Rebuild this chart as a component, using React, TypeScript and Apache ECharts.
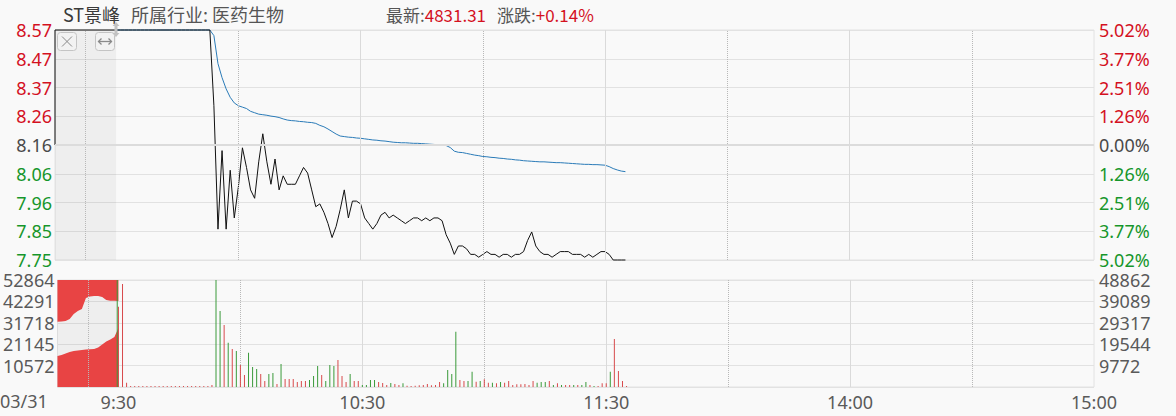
import React, { useEffect, useRef } from "react";
import * as echarts from "echarts";

// ---------- data ----------
const STOCK_NAME = "ST景峰";
const INDUSTRY = "所属行业: 医药生物";
const LATEST_LABEL = "最新:";
const LATEST_VALUE = "4831.31";
const CHANGE_LABEL = "涨跌:";
const CHANGE_VALUE = "+0.14%";
const DATE_LABEL = "03/31";

const PREV_CLOSE = 8.16;
const PRICE_HIGH = 8.57;
const PRICE_LABELS = ["7.75", "7.85", "7.96", "8.06", "8.16", "8.26", "8.37", "8.47", "8.57"];
const PCT_LABELS = ["5.02%", "3.77%", "2.51%", "1.26%", "0.00%", "1.26%", "2.51%", "3.77%", "5.02%"];
const PRE_VOL_MAX = 52864;
const VOL_MAX = 48862;
const VOL_L_LABELS = ["", "10572", "21145", "31718", "42291", "52864"];
const VOL_R_LABELS = ["", "9772", "19544", "29317", "39089", "48862"];
const TIME_TICKS = [0, 60, 120, 180, 240];
const TIME_LABELS = ["9:30", "10:30", "11:30", "14:00", "15:00"];
const GUIDES_SOLID = [60, 120, 180];
const GUIDES_DOTTED = [-7.5, 30, 90, 150, 210];

// call auction (minutes relative to 9:30)
const PRE_T = [-15, -14, -13, -12, -11, -10, -9, -8, -7, -6, -5, -4, -3, -2, -1, 0];
const PRE_UPPER = [32262, 32361, 32608, 33596, 36066, 37549, 38537, 43971, 44712, 44959, 44959, 44465, 42983, 42637, 42637, 42489];
const PRE_LOWER = [15316, 15810, 16551, 17292, 17786, 18033, 18280, 18527, 18626, 18774, 19515, 20998, 22480, 23468, 24703, 29150];
const PRE_PRICE_T = [-15, -15, 0];
const PRE_PRICE = [8.16, 8.57, 8.57];
const AUCTION_T = -0.3;
const AUCTION_VOL = 48862;

// per-minute from 9:30
const PRICE = [
  8.57, 8.57, 8.57, 8.57, 8.57, 8.57, 8.57, 8.57, 8.57, 8.57,
  8.57, 8.57, 8.57, 8.57, 8.57, 8.57, 8.57, 8.57, 8.57, 8.57,
  8.57, 8.57, 8.57, 8.57, 8.30, 7.86, 8.14, 7.86, 8.07, 7.90,
  8.01, 8.15, 8.08, 8.00, 7.97, 8.10, 8.20, 8.10, 8.02, 8.11,
  8.00, 8.05, 8.02, 8.02, 8.02, 8.05, 8.08, 8.06, 8.00, 7.94,
  7.95, 7.92, 7.88, 7.83, 7.87, 7.93, 8.00, 7.90, 7.96, 7.96,
  7.95, 7.90, 7.88, 7.86, 7.88, 7.91, 7.92, 7.90, 7.91, 7.90,
  7.89, 7.88, 7.89, 7.90, 7.90, 7.89, 7.90, 7.89, 7.90, 7.90,
  7.89, 7.84, 7.81, 7.77, 7.80, 7.80, 7.79, 7.77, 7.77, 7.76,
  7.77, 7.78, 7.77, 7.77, 7.76, 7.77, 7.77, 7.76, 7.77, 7.77,
  7.78, 7.82, 7.85, 7.80, 7.78, 7.77, 7.77, 7.76, 7.77, 7.78,
  7.78, 7.78, 7.77, 7.77, 7.77, 7.76, 7.77, 7.76, 7.77, 7.78,
  7.78, 7.77, 7.75, 7.75, 7.75, 7.75,
];
const AVG = [
  8.57, 8.57, 8.57, 8.57, 8.57, 8.57, 8.57, 8.57, 8.57, 8.57,
  8.57, 8.57, 8.57, 8.57, 8.57, 8.57, 8.57, 8.57, 8.57, 8.57,
  8.57, 8.57, 8.57, 8.57, 8.55, 8.45, 8.40, 8.36, 8.33, 8.31,
  8.30, 8.295, 8.29, 8.28, 8.275, 8.27, 8.268, 8.266, 8.263, 8.261,
  8.258, 8.253, 8.249, 8.247, 8.246, 8.244, 8.243, 8.241, 8.240, 8.237,
  8.230, 8.225, 8.217, 8.208, 8.199, 8.192, 8.190, 8.188, 8.187, 8.185,
  8.184, 8.182, 8.180, 8.178, 8.177, 8.175, 8.174, 8.172, 8.170, 8.169,
  8.168, 8.168, 8.167, 8.166, 8.166, 8.165, 8.164, 8.163, 8.162, 8.161,
  8.160, 8.158, 8.151, 8.138, 8.134, 8.133, 8.130, 8.127, 8.124, 8.122,
  8.119, 8.118, 8.116, 8.115, 8.113, 8.112, 8.110, 8.109, 8.107, 8.106,
  8.104, 8.103, 8.102, 8.101, 8.100, 8.100, 8.099, 8.098, 8.097, 8.097,
  8.096, 8.095, 8.094, 8.093, 8.092, 8.091, 8.091, 8.090, 8.090, 8.089,
  8.088, 8.083, 8.076, 8.071, 8.067, 8.065,
];
const VOL = [
  36670, 47040, 1960, 460, 460, 460, 460, 460, 460, 460,
  460, 460, 460, 460, 460, 460, 460, 460, 460, 460,
  460, 460, 460, 910, 48862, 34700, 28300, 20230, 17350, 16440,
  10050, 5480, 15660, 9130, 8220, 5940, 2740, 5940, 6390, 1370,
  10500, 3650, 3650, 3650, 2280, 2740, 2740, 3200, 5020, 9590,
  5480, 2740, 10050, 9590, 12330, 5020, 2280, 5940, 2740, 2740,
  910, 910, 3200, 3200, 2280, 1830, 910, 1830, 1370, 910,
  1680, 610, 460, 610, 760, 910, 1370, 760, 910, 2280,
  1680, 7760, 5940, 25270, 3200, 2740, 2740, 7000, 2440, 2740,
  3500, 1980, 1980, 1680, 2280, 1980, 2740, 910, 1220, 1220,
  1370, 910, 2740, 1980, 2280, 2280, 2740, 910, 1680, 910,
  910, 910, 910, 910, 910, 2280, 910, 460, 460, 1680,
  1680, 7000, 21920, 7310, 2740, 460,
];
const VOL_DIR = (
  "rrrrrrrrrrrrrrrrrrrrrrrr" +
  "ggrgrgrrgg" + "grrggrgrrr" + "rrrgggrggg" + "rrrgrrgggg" + "rrrgrrgrrr" +
  "rrrrrrgggg" + "rrggrgrrgr" + "grrrrrrrrg" + "ggrgrgrrgr" + "ggrgrrrgrr" + "rr"
).split("");

// ---------- style ----------
const BG = "#f9f9f9";
const GRID_C = "#e2e2e2";
const RED = "#d4111f";
const GREEN = "#16962b";
const NEUTRAL = "#4a4a4a";
const LABEL_C = "#5a5a5a";
const BAR_RED = "#d84a4c";
const BAR_GREEN = "#3a9a3a";
const AREA_RED = "#e84444";
const NUM_FONT = "'Noto Sans', sans-serif";
const CJK_FONT = "'Noto Sans CJK SC', sans-serif";

const STEP = (PRICE_HIGH - PREV_CLOSE) / 4;
const tr = (p: number) => (p - PREV_CLOSE) / STEP;

export default function App() {
  const ref = useRef<HTMLDivElement>(null);
  useEffect(() => {
    if (!ref.current) return;
    document.body.style.margin = "0";
    const chart = echarts.init(ref.current, null, { renderer: "svg" });

    const priceData: number[][] = PRE_PRICE_T.map((t, i) => [t, tr(PRE_PRICE[i])]).concat(
      PRICE.map((p, m) => [m, tr(p)])
    );
    const avgData = AVG.map((p, m) => [m, tr(p)]);
    const guideLines = (withMid: boolean) => {
      const arr: any[] = [];
      GUIDES_SOLID.forEach((x) => arr.push({ xAxis: x, lineStyle: { type: "solid", color: "#dadada", width: 1 } }));
      GUIDES_DOTTED.forEach((x) => arr.push({ xAxis: x, lineStyle: { type: "dotted", color: "#b8b8b8", width: 1 } }));
      if (withMid) arr.push({ yAxis: 0, lineStyle: { type: "solid", color: "#dcdcdc", width: 2 } });
      return arr;
    };
    const volData: any[] = [
      { value: [AUCTION_T, AUCTION_VOL], itemStyle: { color: BAR_GREEN } },
    ].concat(
      VOL.map((v, m) => ({
        value: [m, v],
        itemStyle: { color: VOL_DIR[m] === "g" ? BAR_GREEN : BAR_RED },
      }))
    );
    const lbl = { fontSize: 18, lineHeight: 18, fontFamily: NUM_FONT };

    const option: any = {
      animation: false,
      backgroundColor: BG,
      textStyle: { fontFamily: NUM_FONT },
      grid: [
        { left: 55, right: 82, top: 30, height: 230, show: true, borderColor: GRID_C, borderWidth: 1, backgroundColor: "transparent" },
        { left: 55, right: 82, top: 280, height: 107, show: true, borderColor: GRID_C, borderWidth: 1, backgroundColor: "transparent" },
      ],
      xAxis: [
        {
          type: "value", gridIndex: 0, min: -15, max: 240, interval: 15,
          axisLine: { show: false }, axisTick: { show: false }, axisLabel: { show: false }, splitLine: { show: false },
        },
        {
          type: "value", gridIndex: 1, min: -15, max: 240, interval: 15,
          axisLine: { show: false }, axisTick: { show: false }, splitLine: { show: false },
          axisLabel: {
            ...lbl, show: true, color: LABEL_C, margin: 6,
            formatter: (v: number) => {
              const i = TIME_TICKS.indexOf(Math.round(Number(v)));
              return i >= 0 ? TIME_LABELS[i] : "";
            },
          },
        },
      ],
      yAxis: [
        {
          type: "value", gridIndex: 0, position: "left", min: -4, max: 4, interval: 1,
          axisLine: { show: false }, axisTick: { show: false },
          splitLine: { show: true, lineStyle: { color: GRID_C } },
          axisLabel: {
            ...lbl, margin: 3,
            formatter: (v: number) => PRICE_LABELS[Math.round(Number(v)) + 4],
            color: (v: any) => (Number(v) > 0.01 ? RED : Number(v) < -0.01 ? GREEN : NEUTRAL),
          },
        },
        {
          type: "value", gridIndex: 0, position: "right", min: -4, max: 4, interval: 1,
          axisLine: { show: false }, axisTick: { show: false }, splitLine: { show: false },
          axisLabel: {
            ...lbl, margin: 5,
            formatter: (v: number) => PCT_LABELS[8 - (Math.round(Number(v)) + 4)],
            color: (v: any) => (Number(v) > 0.01 ? RED : Number(v) < -0.01 ? GREEN : NEUTRAL),
          },
        },
        {
          type: "value", gridIndex: 1, position: "left", min: 0, max: PRE_VOL_MAX, interval: PRE_VOL_MAX / 5,
          axisLine: { show: false }, axisTick: { show: false },
          splitLine: { show: true, lineStyle: { color: GRID_C } },
          axisLabel: {
            ...lbl, margin: 3, color: LABEL_C,
            formatter: (v: number) => VOL_L_LABELS[Math.round(Number(v) / (PRE_VOL_MAX / 5))] || "",
          },
        },
        {
          type: "value", gridIndex: 1, position: "right", min: 0, max: VOL_MAX, interval: VOL_MAX / 5,
          axisLine: { show: false }, axisTick: { show: false }, splitLine: { show: false },
          axisLabel: {
            ...lbl, margin: 5, color: LABEL_C,
            formatter: (v: number) => VOL_R_LABELS[Math.round(Number(v) / (VOL_MAX / 5))] || "",
          },
        },
      ],
      series: [
        {
          name: "priceGuides", type: "line", xAxisIndex: 0, yAxisIndex: 0, z: 1,
          data: [[-15, 0]], symbol: "none", lineStyle: { opacity: 0 }, silent: true,
          markArea: { silent: true, itemStyle: { color: "rgba(0,0,0,0.045)" }, data: [[{ xAxis: -15 }, { xAxis: 0 }]] },
          markLine: { silent: true, symbol: ["none", "none"], label: { show: false }, data: guideLines(true) },
        },
        {
          name: "avg", type: "line", xAxisIndex: 0, yAxisIndex: 0, z: 3, clip: false,
          data: avgData, symbol: "none", lineStyle: { color: "#2a7bb8", width: 1 },
        },
        {
          name: "price", type: "line", xAxisIndex: 0, yAxisIndex: 0, z: 4, clip: false,
          data: priceData, symbol: "none", lineStyle: { color: "#111111", width: 1 },
        },
        {
          name: "volGuides", type: "line", xAxisIndex: 1, yAxisIndex: 2, z: 1,
          data: [[-15, 0]], symbol: "none", lineStyle: { opacity: 0 }, silent: true,
          markArea: { silent: true, itemStyle: { color: "rgba(0,0,0,0.045)" }, data: [[{ xAxis: -15 }, { xAxis: 0 }]] },
          markLine: { silent: true, symbol: ["none", "none"], label: { show: false }, data: guideLines(false) },
        },
        {
          name: "preLower", type: "line", xAxisIndex: 1, yAxisIndex: 2, z: 2,
          data: PRE_T.map((t, i) => [t, PRE_LOWER[i]]), symbol: "none",
          lineStyle: { width: 0 }, areaStyle: { color: AREA_RED, opacity: 1, origin: "start" },
        },
        {
          name: "preUpper", type: "line", xAxisIndex: 1, yAxisIndex: 2, z: 2,
          data: PRE_T.map((t, i) => [t, PRE_UPPER[i]]), symbol: "none",
          lineStyle: { width: 0 }, areaStyle: { color: AREA_RED, opacity: 1, origin: "end" },
        },
        {
          name: "vol", type: "bar", xAxisIndex: 1, yAxisIndex: 3, z: 5,
          barWidth: 1, data: volData,
        },
      ],
      graphic: [
        { type: "text", x: 63, y: 14, z: 100, style: { text: STOCK_NAME, fill: "#3a3a3a", font: `18px ${CJK_FONT}`, verticalAlign: "middle" } },
        { type: "text", x: 131, y: 14, z: 100, style: { text: INDUSTRY, fill: "#555555", font: `18px ${CJK_FONT}`, verticalAlign: "middle" } },
        {
          type: "text", x: 386, y: 14, z: 100,
          style: {
            text: `{g|${LATEST_LABEL}}{r|${LATEST_VALUE}}`, verticalAlign: "middle",
            rich: {
              g: { fill: "#555555", fontSize: 17, fontFamily: CJK_FONT },
              r: { fill: RED, fontSize: 17, fontFamily: CJK_FONT },
            },
          },
        },
        {
          type: "text", x: 497, y: 14, z: 100,
          style: {
            text: `{g|${CHANGE_LABEL}}{r|${CHANGE_VALUE}}`, verticalAlign: "middle",
            rich: {
              g: { fill: "#555555", fontSize: 17, fontFamily: CJK_FONT },
              r: { fill: RED, fontSize: 17, fontFamily: CJK_FONT },
            },
          },
        },
        { type: "text", x: 0, y: 401, z: 100, style: { text: DATE_LABEL, fill: LABEL_C, font: `18px ${NUM_FONT}`, verticalAlign: "middle" } },
        // close button
        { type: "rect", z: 100, shape: { x: 57.5, y: 32.5, width: 19, height: 18, r: 3 }, style: { fill: "#f2f2f2", stroke: "#c4c4c4", lineWidth: 1 } },
        { type: "line", z: 101, shape: { x1: 62, y1: 36.5, x2: 72, y2: 46.5 }, style: { stroke: "#8a8a8a", lineWidth: 1 } },
        { type: "line", z: 101, shape: { x1: 72, y1: 36.5, x2: 62, y2: 46.5 }, style: { stroke: "#8a8a8a", lineWidth: 1 } },
        // expand button
        { type: "rect", z: 100, shape: { x: 95.5, y: 32.5, width: 19, height: 18, r: 3 }, style: { fill: "#f2f2f2", stroke: "#c4c4c4", lineWidth: 1 } },
        { type: "line", z: 101, shape: { x1: 98.5, y1: 41.5, x2: 111.5, y2: 41.5 }, style: { stroke: "#8a8a8a", lineWidth: 1.3 } },
        { type: "polyline", z: 101, shape: { points: [[101.5, 38.5], [98.5, 41.5], [101.5, 44.5]] }, style: { stroke: "#8a8a8a", lineWidth: 1.3, fill: "none" } },
        { type: "polyline", z: 101, shape: { points: [[108.5, 38.5], [111.5, 41.5], [108.5, 44.5]] }, style: { stroke: "#8a8a8a", lineWidth: 1.3, fill: "none" } },
        // drag handle
        {
          type: "polygon", z: 102,
          shape: { points: [[116, 22], [119.5, 26], [117.5, 26], [117.5, 33], [119.5, 33], [116, 37], [112.5, 33], [114.5, 33], [114.5, 26], [112.5, 26]] },
          style: { fill: "#c2c2c2" },
        },
      ],
    };
    chart.setOption(option);
    return () => chart.dispose();
  }, []);

  return (
    <div
      ref={ref}
      style={{ position: "fixed", left: 0, top: 0, width: 1176, height: 416, background: BG }}
    />
  );
}
